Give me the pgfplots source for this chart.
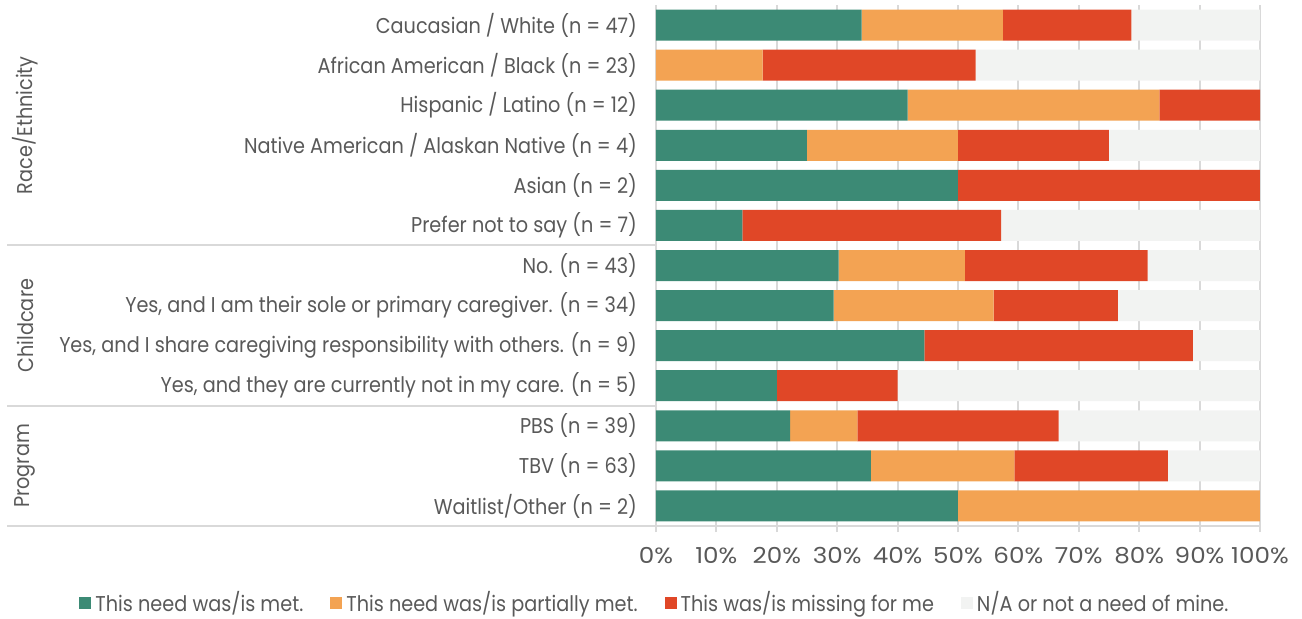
\documentclass[border=0pt]{standalone}
\usepackage{pgfplots}
\pgfplotsset{compat=1.18}
\usepackage{fontspec}
\setmainfont{Poppins}
\newfontfamily\narrowfont{Poppins}[FakeStretch=0.9]
\newfontfamily\widefont{Poppins}[FakeStretch=1.12]

\definecolor{met}{HTML}{3C8A75}
\definecolor{partial}{HTML}{F3A353}
\definecolor{missing}{HTML}{E04727}
\definecolor{notneed}{HTML}{F2F3F2}
\definecolor{gridgray}{HTML}{D9D9D9}
\definecolor{textgray}{HTML}{595959}

\newcommand\lbl{\narrowfont\fontsize{10.7pt}{12pt}\selectfont}
\newcommand\tck{\widefont\fontsize{11pt}{12pt}\selectfont}

\begin{document}
\begin{tikzpicture}
\useasboundingbox (-328pt,-46pt) rectangle (323pt,263pt);
\begin{axis}[
  at={(0,0)}, anchor=south west,
  scale only axis, width=302pt, height=260.5pt,
  xbar stacked, bar width=15.5pt,
  xmin=0, xmax=100, ymin=0.5, ymax=13.5,
  clip=false,
  axis lines*=left,
  axis line style={draw=gridgray, line width=1pt},
  xmajorgrids, grid style={gridgray, line width=1pt},
  xtick={0,10,...,100},
  xticklabels={0\%,10\%,20\%,30\%,40\%,50\%,60\%,70\%,80\%,90\%,100\%},
  xtick style={draw=gridgray, line width=1pt},
  major tick length=3pt, tick align=outside,
  xticklabel style={font=\tck, text=textgray, yshift=-4pt},
  ytick={1,...,13},
  yticklabels={
    Waitlist/Other (n = 2),
    TBV (n = 63),
    PBS (n = 39),
    {Yes, and they are currently not in my care. (n = 5)},
    {Yes, and I share caregiving responsibility with others. (n = 9)},
    {Yes, and I am their sole or primary caregiver. (n = 34)},
    No. (n = 43),
    Prefer not to say (n = 7),
    Asian (n = 2),
    Native American / Alaskan Native (n = 4),
    Hispanic / Latino (n = 12),
    African American / Black (n = 23),
    Caucasian / White (n = 47)},
  ytick style={draw=none},
  yticklabel style={font=\lbl, text=textgray, xshift=-3pt},
  legend columns=4,
  legend style={at={(0,-0.148)}, anchor=center, draw=none, fill=none,
    font=\lbl, text=textgray, inner sep=1pt,
    /tikz/every even column/.append style={column sep=11.5pt}},
]
% rows are numbered from the bottom: 13 = Caucasian / White, 1 = Waitlist/Other
\addplot[fill=met, draw=none,
  legend image code/.code={\fill[met] (0pt,-3pt) rectangle (6pt,3pt);}]
  coordinates {(34.04,13) (0,12) (41.67,11) (25,10) (50,9) (14.29,8)
               (30.23,7) (29.41,6) (44.44,5) (20,4)
               (22.22,3) (35.59,2) (50,1)};
\addlegendentry{This need was/is met.}
\addplot[fill=partial, draw=none,
  legend image code/.code={\fill[partial] (0pt,-3pt) rectangle (6pt,3pt);}]
  coordinates {(23.40,13) (17.65,12) (41.67,11) (25,10) (0,9) (0,8)
               (20.93,7) (26.47,6) (0,5) (0,4)
               (11.11,3) (23.73,2) (50,1)};
\addlegendentry{This need was/is partially met.}
\addplot[fill=missing, draw=none,
  legend image code/.code={\fill[missing] (0pt,-3pt) rectangle (6pt,3pt);}]
  coordinates {(21.28,13) (35.29,12) (16.67,11) (25,10) (50,9) (42.86,8)
               (30.23,7) (20.59,6) (44.44,5) (20,4)
               (33.33,3) (25.42,2) (0,1)};
\addlegendentry{This was/is missing for me}
\addplot[fill=notneed, draw=none,
  legend image code/.code={\fill[notneed] (0pt,-3pt) rectangle (6pt,3pt);}]
  coordinates {(21.28,13) (47.06,12) (0,11) (25,10) (0,9) (42.86,8)
               (18.60,7) (23.53,6) (11.11,5) (60,4)
               (33.33,3) (15.25,2) (0,1)};
\addlegendentry{N/A or not a need of mine.}

% group separators reaching out under the category labels
\draw[gridgray, line width=1pt] (axis cs:0,7.5) -- ++(-324.5pt,0pt);
\draw[gridgray, line width=1pt] (axis cs:0,3.5) -- ++(-324.5pt,0pt);
\draw[gridgray, line width=1pt] (axis cs:0,0.5) -- ++(-324.5pt,0pt);
% group titles
\node[rotate=90, font=\lbl, text=textgray] at ([xshift=-315.5pt]axis cs:0,10.5) {Race/Ethnicity};
\node[rotate=90, font=\lbl, text=textgray] at ([xshift=-315.5pt]axis cs:0,5.5) {Childcare};
\node[rotate=90, font=\lbl, text=textgray] at ([xshift=-315.5pt]axis cs:0,2) {Program};
\end{axis}
\end{tikzpicture}
\end{document}
